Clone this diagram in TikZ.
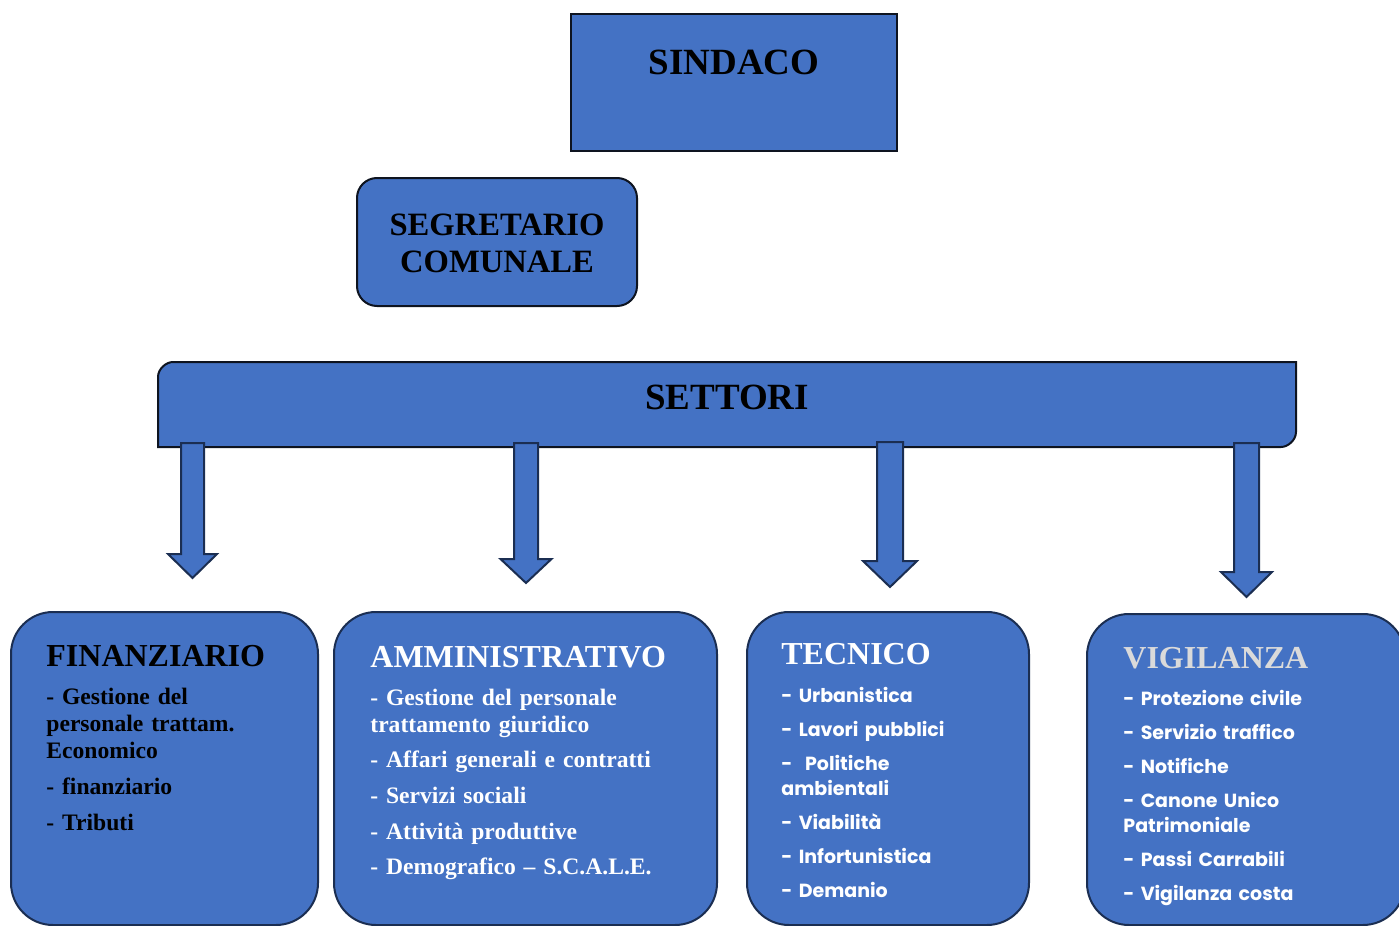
\documentclass[tikz,border=0pt]{standalone}
\usepackage{fontspec}
\setmainfont{Liberation Serif}
\newfontfamily\gothic{Poppins}
\definecolor{boxblue}{HTML}{4472C4}
\definecolor{navyline}{HTML}{1B2E52}
\definecolor{darkline}{HTML}{0E1420}
\definecolor{ttlgray}{HTML}{DADADA}
\newcommand\blockarrow[6]{%
  \draw[arrowsty] ({#1-#5},#2) -- ({#1+#5},#2) -- ({#1+#5},#3) -- ({#1+#6},#3)
    -- (#1,#4) -- ({#1-#6},#3) -- ({#1-#5},#3) -- cycle;}
\begin{document}
\begin{tikzpicture}[x=0.5pt,y=-0.5pt,
  arrowsty/.style={fill=boxblue,draw=navyline,line width=1pt,line join=miter},
  secbox/.style={fill=boxblue,draw=navyline,line width=1pt,rounded corners=21pt},
  ttlsty/.style={anchor=base west,inner sep=0pt,font=\fontsize{16}{16}\selectfont\bfseries},
  serlist/.style={anchor=base west,inner sep=0pt,text width=200pt,align=left,
    font=\fontsize{11.8}{13.6}\selectfont\bfseries},
  sanslist/.style={anchor=base west,inner sep=0pt,text width=200pt,align=left,
    font=\gothic\fontsize{9.5}{12.6}\selectfont\bfseries},
  bigtext/.style={inner sep=0pt,font=\bfseries}]
\useasboundingbox (0,0) rectangle (1399,926);
\clip (0,0) rectangle (1399,926);
% SINDACO
\draw[fill=boxblue,draw=darkline,line width=1.3pt] (571,14) rectangle (897,151);
\node[bigtext,anchor=base,font=\fontsize{18.5}{18.5}\selectfont\bfseries] (sindaco) at (734,74) {SINDACO};
% SEGRETARIO
\draw[fill=boxblue,draw=darkline,line width=1pt,rounded corners=10pt] (357,178) rectangle (637,306);
\node[bigtext,anchor=base,text width=150pt,align=center,font=\fontsize{16.3}{18.5}\selectfont\bfseries] (segretario) at (497,235) {SEGRETARIO\\COMUNALE};
% SETTORI bar
\draw[fill=boxblue,draw=darkline,line width=1pt]
  (158,447) -- (158,377) .. controls (158,368.7) and (166.3,362) .. (173,362)
  -- (1296,362) -- (1296,432) .. controls (1296,440.3) and (1287.7,447) .. (1281,447) -- cycle;
\node[bigtext,anchor=base,font=\fontsize{18.5}{18.5}\selectfont\bfseries] (settori) at (727,409) {SETTORI};
% arrows
\blockarrow{192.5}{443}{554}{578}{11.5}{24.5}
\blockarrow{526}{443}{559}{583}{12}{25.5}
\blockarrow{890}{442}{561}{587}{13}{27}
\blockarrow{1246.5}{443}{572}{597}{12.5}{25.5}
% sector boxes
\draw[secbox] (11,612) rectangle (318,925);
\draw[secbox] (334,612) rectangle (717,925);
\draw[secbox] (747,612) rectangle (1029,925);
\draw[secbox] (1087,614) rectangle (1405,925);
% FINANZIARIO
\node[ttlsty,text=black] (fintitle) at (46,666) {FINANZIARIO};
\node[serlist,text=black] (finlist) at (46,704) {- Gestione del\\personale trattam.\\Economico\\[4.4pt]- finanziario\\[4.4pt]- Tributi};
% AMMINISTRATIVO
\node[ttlsty,text=white] (ammtitle) at (370,667) {AMMINISTRATIVO};
\node[serlist,text=white] (ammlist) at (370,705) {- Gestione del personale\\trattamento giuridico\\[4.2pt]- Affari generali e contratti\\[4.2pt]- Servizi sociali\\[4.2pt]- Attività produttive\\[4.2pt]- Demografico – S.C.A.L.E.};
% TECNICO
\node[ttlsty,text=white] (tectitle) at (781,664) {TECNICO};
\node[sanslist,text=white] (teclist) at (781,702) {- Urbanistica\\[4.4pt]- Lavori pubblici\\[4.4pt]-~ Politiche\\ambientali\\[4.4pt]- Viabilità\\[4.4pt]- Infortunistica\\[4.4pt]- Demanio};
% VIGILANZA
\node[ttlsty,text=ttlgray] (vigtitle) at (1123,668) {VIGILANZA};
\node[sanslist,text=white] (viglist) at (1123,705) {- Protezione civile\\[4.4pt]- Servizio traffico\\[4.4pt]- Notifiche\\[4.4pt]- Canone Unico\\Patrimoniale\\[4.4pt]- Passi Carrabili\\[4.4pt]- Vigilanza costa};
\end{tikzpicture}
\end{document}
